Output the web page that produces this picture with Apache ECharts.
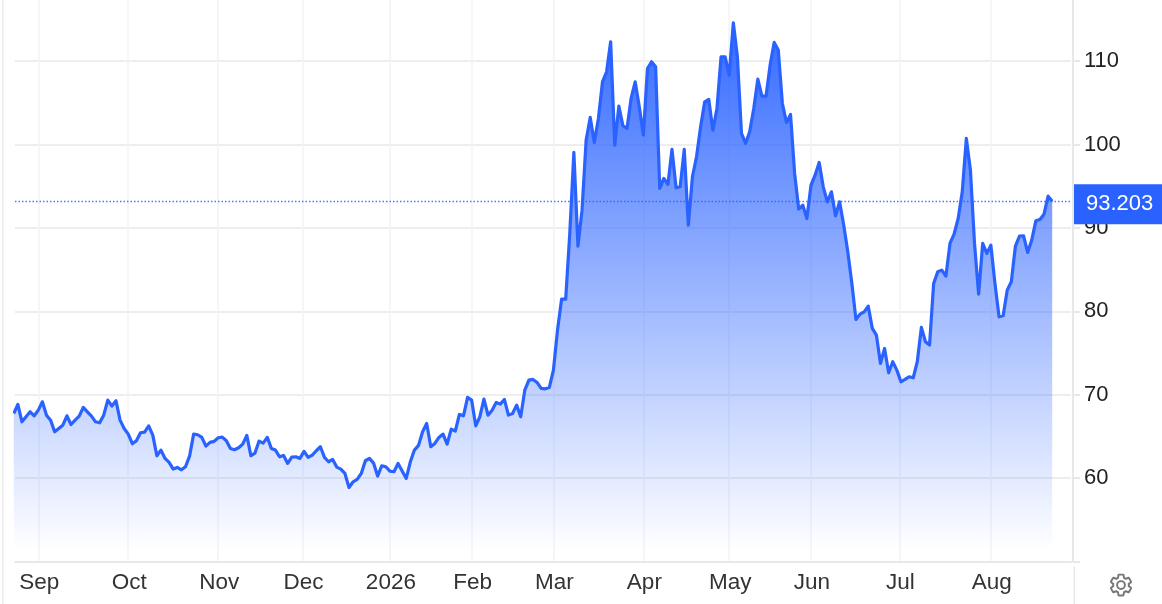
<!DOCTYPE html>
<html>
<head>
<meta charset="utf-8">
<style>html,body{margin:0;padding:0;background:#fff}#c{width:1162px;height:604px}</style>
<script src="https://cdn.jsdelivr.net/npm/echarts@6/dist/echarts.min.js"></script>
</head>
<body>
<div id="c"></div>
<script>
const prices = [
67.75,68.83,66.75,67.35,67.95,67.47,68.15,69.15,67.55,66.95,
65.55,65.95,66.35,67.47,66.43,66.95,67.43,68.47,67.95,67.43,
66.75,66.63,67.55,69.35,68.63,69.27,66.95,65.95,65.28,64.12,
64.48,65.44,65.52,66.27,65.16,62.68,63.36,62.36,61.88,61.08,
61.28,61.0,61.36,62.64,65.28,65.2,64.88,63.84,64.28,64.4,
64.84,64.92,64.48,63.56,63.4,63.64,64.08,65.12,62.68,63.0,
64.44,64.2,64.88,63.56,63.36,62.56,62.72,61.76,62.52,62.56,
62.36,63.2,62.48,62.76,63.28,63.76,62.48,61.96,62.24,61.32,
61.08,60.56,58.88,59.56,59.84,60.56,62.08,62.36,61.8,60.24,
61.48,61.36,60.84,60.76,61.76,60.84,59.96,61.96,63.36,63.92,
65.56,66.55,63.76,64.16,64.88,65.28,64.08,65.88,65.64,67.63,
67.47,69.67,69.35,66.27,67.35,69.47,67.55,68.15,69.07,68.87,
69.43,67.55,67.75,68.75,67.35,70.55,71.75,71.83,71.47,70.75,
70.71,70.87,72.95,77.75,81.46,81.46,89.35,99.05,87.82,92.13,
100.53,103.25,100.25,103.13,107.52,108.72,112.32,99.93,104.6,102.25,
101.93,105.52,107.52,104.52,101.13,109.12,109.92,109.32,94.73,95.93,
95.21,99.41,94.81,94.93,99.41,90.34,96.13,98.53,102.13,105.12,
105.4,101.73,104.32,110.52,110.52,108.32,114.6,110.52,101.33,100.13,
101.53,104.32,107.84,105.8,105.8,109.52,112.24,111.32,104.92,102.65,
103.6,96.53,92.25,92.73,91.13,95.13,96.33,97.85,94.93,93.13,
94.33,91.45,93.13,90.34,87.14,83.34,79.02,79.66,79.94,80.62,
77.95,77.15,73.75,75.55,72.63,73.95,72.95,71.55,71.83,72.15,
72.03,73.95,78.07,76.35,75.95,83.34,84.74,84.94,84.22,88.14,
89.26,91.13,94.33,100.73,96.93,88.14,82.06,88.14,86.94,87.94,
83.34,79.34,79.46,82.54,83.54,87.82,89.02,89.06,87.06,88.54,
90.86,91.02,91.65,93.81,93.203
];
const monthTicks = [6,28,50,70.6,92,112,132,154,175,195,216.6,239];
const monthLabels = ['Sep','Oct','Nov','Dec','2026','Feb','Mar','Apr','May','Jun','Jul','Aug'];
const priceTicks = [50,60,70,80,90,100,110];
const lastPrice = 93.203;

const BLUE = '#2962ff';
const FONT = '"Liberation Sans", Arial, sans-serif';
const GEAR = 'M19.14 12.94c.04-.3.06-.61.06-.94 0-.32-.02-.64-.07-.94l2.03-1.58c.18-.14.23-.41.12-.61l-1.92-3.32c-.12-.22-.37-.29-.59-.22l-2.39.96c-.5-.38-1.03-.7-1.62-.94l-.36-2.54c-.04-.24-.24-.41-.48-.41h-3.84c-.24 0-.43.17-.47.41l-.36 2.54c-.59.24-1.13.57-1.62.94l-2.39-.96c-.22-.08-.47 0-.59.22L2.74 8.87c-.12.21-.08.47.12.61l2.03 1.58c-.05.3-.09.63-.09.94s.02.64.07.94l-2.03 1.58c-.18.14-.23.41-.12.61l1.92 3.32c.12.22.37.29.59.22l2.39-.96c.5.38 1.03.7 1.62.94l.36 2.54c.05.24.24.41.48.41h3.84c.24 0 .44-.17.47-.41l.36-2.54c.59-.24 1.13-.56 1.62-.94l2.39.96c.22.08.47 0 .59-.22l1.92-3.32c.12-.22.07-.47-.12-.61l-2.01-1.58zM12 15.6c-1.98 0-3.6-1.62-3.6-3.6s1.62-3.6 3.6-3.6 3.6 1.62 3.6 3.6-1.62 3.6-3.6 3.6z';
echarts.graphic.registerShape('gear', echarts.graphic.extendPath(GEAR, {}));
const chart = echarts.init(document.getElementById('c'), null, {renderer:'canvas'});
chart.setOption({
  animation:false,
  backgroundColor:'#fff',
  grid:{left:15,right:91,top:0,bottom:42.5,containLabel:false},
  xAxis:{
    type:'value',min:0.3,max:258.6,
    axisLine:{show:true,onZero:false,lineStyle:{color:'#e8e8e8',width:2}},
    axisTick:{show:false,customValues:monthTicks},
    axisLabel:{
      customValues:monthTicks,
      hideOverlap:false,showMinLabel:true,showMaxLabel:true,
      color:'#333',fontFamily:FONT,fontSize:22.5,margin:10,padding:[0,0,0,2],
      formatter:v=>monthLabels[monthTicks.indexOf(v)]||''
    },
    splitLine:{show:true,lineStyle:{color:'#f1f3f9',width:1.5}}
  },
  yAxis:{
    type:'value',position:'right',min:50,max:117.33,offset:2,
    axisLine:{show:true,lineStyle:{color:'#e8e8e8',width:2}},
    axisTick:{show:true,length:7,lineStyle:{color:'#e8e8e8',width:2},customValues:priceTicks},
    axisLabel:{customValues:priceTicks,color:'#222',fontFamily:FONT,fontSize:22,margin:11,
      formatter:v=>v===50?'':String(v)},
    splitLine:{show:true,lineStyle:{color:'#e8e8e8',width:1.6}}
  },
  series:[{
    type:'line',
    data:prices.map((v,i)=>[i,v]),
    showSymbol:false,symbol:'none',smooth:false,
    lineStyle:{color:BLUE,width:3.2,join:'round'},
    areaStyle:{origin:'start',opacity:1,color:new echarts.graphic.LinearGradient(0,0,0,1,[
      {offset:0,color:'rgba(41,98,255,0.95)'},
      {offset:0.98,color:'rgba(41,98,255,0)'},
      {offset:1,color:'rgba(41,98,255,0)'}])},
    z:3,
    markLine:{
      silent:true,symbol:'none',z:20,
      lineStyle:{color:BLUE,width:1.3,type:[1.5,2],opacity:.85},
      label:{show:true,position:'end',distance:3,formatter:String(lastPrice),offset:[0,3],
        color:'#fff',backgroundColor:BLUE,fontFamily:FONT,fontSize:22,
        padding:[10,12,8,12],lineHeight:22,opacity:1},
      data:[{yAxis:lastPrice}]
    }
  }],
  graphic:[
    {type:'rect',silent:true,shape:{x:2,y:0,width:1.5,height:604},style:{fill:'#ececec'}},
    {type:'rect',silent:true,shape:{x:1073.5,y:566,width:1.5,height:38},style:{fill:'#e8e8e8'}},
    {type:'gear',silent:true,x:1108,y:572,scaleX:26/24,scaleY:26/24,
      style:{fill:'none',stroke:'#777',lineWidth:1.8}}
  ]
});
</script>
</body>
</html>
